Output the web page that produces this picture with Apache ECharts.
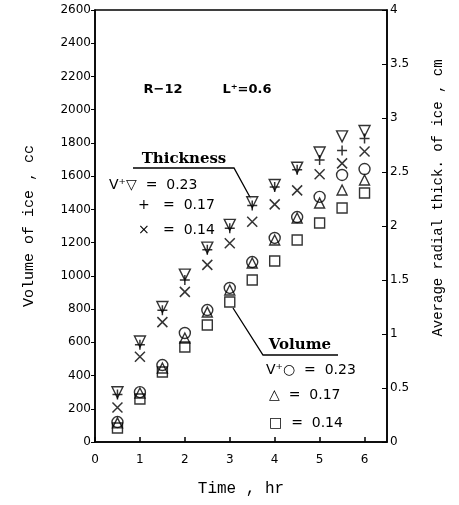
<!DOCTYPE html>
<html>
<head>
<meta charset="utf-8">
<script src="https://cdn.jsdelivr.net/npm/echarts@6/dist/echarts.min.js"></script>
<style>
  html, body { margin: 0; padding: 0; background: #fff; }
  #chart { width: 459px; height: 505px; }
</style>
</head>
<body>
<div id="chart"></div>
<script>
// time, hr
const hours = [0.5, 1, 1.5, 2, 2.5, 3, 3.5, 4, 4.5, 5, 5.5, 6];

// average radial thickness of ice, cm
const thickV023 = [0.46, 0.93, 1.25, 1.55, 1.80, 2.01, 2.22, 2.38, 2.54, 2.68, 2.83, 2.88];
const thickV017 = [0.44, 0.90, 1.22, 1.50, 1.78, 1.98, 2.19, 2.36, 2.52, 2.61, 2.70, 2.81];
const thickV014 = [0.32, 0.79, 1.11, 1.39, 1.64, 1.84, 2.04, 2.20, 2.33, 2.48, 2.58, 2.69];

// volume of ice, cc
const volV023 = [120, 300, 463, 656, 794, 927, 1083, 1228, 1354, 1475, 1607, 1643];
const volV017 = [115, 295, 445, 626, 782, 915, 1077, 1216, 1348, 1438, 1517, 1577];
const volV014 = [84, 259, 421, 572, 704, 843, 975, 1089, 1216, 1318, 1408, 1499];

const pair = (ys) => hours.map((h, i) => [h, ys[i]]);

const plusPath = 'path://M5,0L5,10M0,5L10,5';
const crossPath = 'path://M0,0L10,10M10,0L0,10';

const hollow = { color: '#fff', borderColor: '#000', borderWidth: 1.4 };
const stroked = { color: 'none', borderColor: '#000', borderWidth: 1.5 };
const ring = { color: 'none', borderColor: '#000', borderWidth: 1.4 };

const tickFont = { fontFamily: 'DejaVu Sans', fontSize: 12, color: '#000' };
const monoFont = 'Liberation Mono';
const serifFont = 'DejaVu Serif';
const noteFont = 'DejaVu Sans';

const chart = echarts.init(document.getElementById('chart'), null, { renderer: 'canvas' });

const option = {
  backgroundColor: '#fff',
  animation: false,
  grid: {
    left: 95, right: 72, top: 10, bottom: 63,
    show: true, borderColor: '#000', borderWidth: 1.5,
  },
  xAxis: {
    type: 'value', min: 0, max: 6.5, interval: 1,
    axisLine: { show: true, onZero: false, lineStyle: { color: '#000', width: 1.5 } },
    axisTick: { show: true, inside: true, length: 5, lineStyle: { color: '#000', width: 1.5 } },
    axisLabel: Object.assign({ margin: 12, showMaxLabel: false }, tickFont),
    splitLine: { show: false },
    name: 'Time , hr', nameLocation: 'middle', nameGap: 39,
    nameTextStyle: { fontFamily: monoFont, fontSize: 16, color: '#000' },
  },
  yAxis: [
    {
      type: 'value', min: 0, max: 2600, interval: 200,
      axisLine: { show: true, lineStyle: { color: '#000', width: 1.5 } },
      axisTick: { show: true, length: 4, lineStyle: { color: '#000' } },
      axisLabel: Object.assign({ margin: 4, formatter: (v) => String(v) }, tickFont),
      splitLine: { show: false },
      name: 'Volume of ice , cc', nameLocation: 'middle', nameGap: 58,
      nameTextStyle: { fontFamily: monoFont, fontSize: 15, color: '#000' },
    },
    {
      type: 'value', min: 0, max: 4, interval: 0.5, position: 'right',
      axisLine: { show: true, lineStyle: { color: '#000', width: 1.5 } },
      axisTick: { show: true, inside: true, length: 5, lineStyle: { color: '#000' } },
      axisLabel: Object.assign({ margin: 3 }, tickFont),
      splitLine: { show: false },
    },
  ],
  series: [
    { name: 'thick 0.23', type: 'scatter', yAxisIndex: 1, data: pair(thickV023),
      symbol: 'triangle', symbolRotate: 180, symbolSize: 11, itemStyle: hollow },
    { name: 'thick 0.17', type: 'scatter', yAxisIndex: 1, data: pair(thickV017),
      symbol: plusPath, symbolSize: 10, itemStyle: stroked },
    { name: 'thick 0.14', type: 'scatter', yAxisIndex: 1, data: pair(thickV014),
      symbol: crossPath, symbolSize: 10, itemStyle: stroked },
    { name: 'vol 0.23', type: 'scatter', yAxisIndex: 0, data: pair(volV023),
      symbol: 'circle', symbolSize: 11, itemStyle: ring },
    { name: 'vol 0.17', type: 'scatter', yAxisIndex: 0, data: pair(volV017),
      symbol: 'triangle', symbolSize: 10, itemStyle: ring },
    { name: 'vol 0.14', type: 'scatter', yAxisIndex: 0, data: pair(volV014),
      symbol: 'rect', symbolSize: 10, itemStyle: ring },
  ],
  graphic: [
    // right axis title
    { type: 'text', x: 438, y: 198, rotation: Math.PI / 2,
      style: { text: 'Average radial thick. of ice , cm', fontFamily: monoFont, fontSize: 14,
        fill: '#000', align: 'center', verticalAlign: 'middle' } },
    // run labels
    { type: 'text', x: 163, y: 90,
      style: { text: 'R\u221212', fontFamily: noteFont, fontWeight: 'bold', fontSize: 13, fill: '#000', align: 'center', verticalAlign: 'middle' } },
    { type: 'text', x: 247, y: 90,
      style: { text: 'L\u207A=0.6', fontFamily: noteFont, fontWeight: 'bold', fontSize: 13, fill: '#000', align: 'center', verticalAlign: 'middle' } },
    // Thickness block
    { type: 'text', x: 184, y: 159,
      style: { text: 'Thickness', fontFamily: serifFont, fontWeight: 'bold', fontSize: 15, fill: '#000', align: 'center', verticalAlign: 'middle' } },
    { type: 'polyline', shape: { points: [[133, 168], [234, 168], [251, 199]] },
      style: { stroke: '#000', lineWidth: 1.3, fill: 'none' } },
    { type: 'text', x: 109, y: 185,
      style: { text: 'V\u207A\u25BD  =  0.23', fontFamily: noteFont, fontSize: 14, fill: '#000', verticalAlign: 'middle' } },
    { type: 'text', x: 138, y: 205,
      style: { text: '+   =  0.17', fontFamily: noteFont, fontSize: 14, fill: '#000', verticalAlign: 'middle' } },
    { type: 'text', x: 138, y: 230,
      style: { text: '\u00D7   =  0.14', fontFamily: noteFont, fontSize: 14, fill: '#000', verticalAlign: 'middle' } },
    // Volume block
    { type: 'polyline', shape: { points: [[233, 308], [263, 355], [338, 355]] },
      style: { stroke: '#000', lineWidth: 1.3, fill: 'none' } },
    { type: 'text', x: 300, y: 345,
      style: { text: 'Volume', fontFamily: serifFont, fontWeight: 'bold', fontSize: 15, fill: '#000', align: 'center', verticalAlign: 'middle' } },
    { type: 'text', x: 266, y: 370,
      style: { text: 'V\u207A\u25CB  =  0.23', fontFamily: noteFont, fontSize: 14, fill: '#000', verticalAlign: 'middle' } },
    { type: 'text', x: 269, y: 395,
      style: { text: '\u25B3  =  0.17', fontFamily: noteFont, fontSize: 14, fill: '#000', verticalAlign: 'middle' } },
    { type: 'text', x: 269, y: 423,
      style: { text: '\u25A1  =  0.14', fontFamily: noteFont, fontSize: 14, fill: '#000', verticalAlign: 'middle' } },
  ],
};

chart.setOption(option);
</script>
</body>
</html>
